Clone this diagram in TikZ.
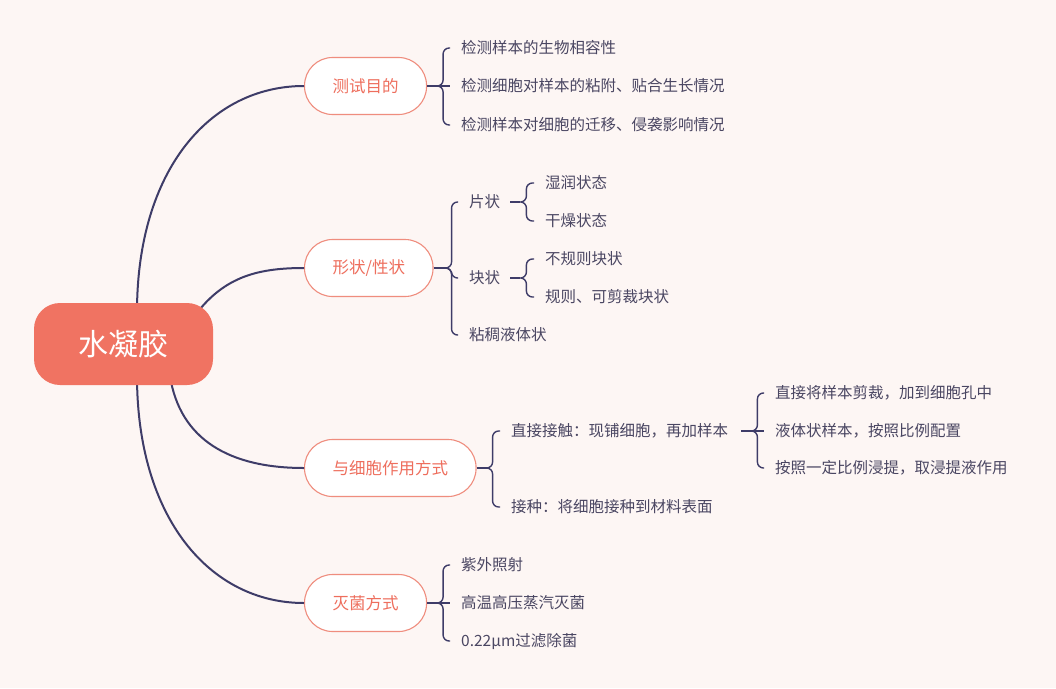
\documentclass[tikz,border=0pt]{standalone}
\usepackage{fontspec}
\setmainfont{Noto Sans CJK SC}
\usetikzlibrary{calc}
\definecolor{bgc}{HTML}{FDF6F4}
\definecolor{rootc}{HTML}{F07362}
\definecolor{bc}{HTML}{EF8D7E}
\definecolor{bt}{HTML}{EE6E5D}
\definecolor{lc}{HTML}{3E3C68}
\definecolor{tc}{HTML}{4A4662}
\begin{document}
\begin{tikzpicture}[x=1pt,y=-1pt,
  mline/.style={draw=lc,line width=2pt},
  bline/.style={draw=lc,line width=1.4pt,rounded corners=6pt},
  leaf/.style={anchor=west,inner sep=0pt,text=tc,font=\fontsize{15.5}{18}\selectfont},
  branch/.style={draw=bc,fill=white,line width=1.1pt,rounded corners=28pt,minimum height=57pt,inner xsep=28pt,text=bt,font=\fontsize{16.5}{20}\selectfont,anchor=west},
  brace/.style={to path={-- ++(6pt,0) |- (\tikztotarget)}}
]
\fill[bgc] (0,0) rectangle (1056,688);
\useasboundingbox (0,0) rectangle (1056,688);

% branch nodes
\node[branch] (A) at (304,86) {测试目的};
\node[branch] (B) at (304,268) {形状/性状};
\node[branch] (C) at (304,468) {与细胞作用方式};
\node[branch] (D) at (304,603) {灭菌方式};

% start coordinates inside the root
\coordinate (rA) at (137,312);
\coordinate (rB) at (193,318);
\coordinate (rC) at (170,376);
\coordinate (rD) at (137,376);

% main connectors
\draw[mline] (rA) .. controls (137,170) and (210,86) .. (A.west);
\draw[mline] (rB) .. controls (222,278) and (255,268) .. (B.west);
\draw[mline] (rC) .. controls (180,440) and (230,468) .. (C.west);
\draw[mline] (rD) .. controls (137,518) and (210,603) .. (D.west);

% root
\node[fill=rootc,rounded corners=26pt,minimum width=179pt,minimum height=82pt,text=white,font=\fontsize{30}{36}\selectfont] (root) at (123.5,344) {水凝胶};

% leaves of A
\node[leaf] (a1) at (461,48) {检测样本的生物相容性};
\node[leaf] (a2) at (461,86) {检测细胞对样本的粘附、贴合生长情况};
\node[leaf] (a3) at (461,125) {检测样本对细胞的迁移、侵袭影响情况};
\draw[bline] (A.east) -- ++(10pt,0) coordinate (jA);
\draw[bline] (jA) to[brace] ([xshift=-11pt]a1.west);
\draw[bline] (jA) -- ([xshift=-11pt]a2.west);
\draw[bline] (jA) to[brace] ([xshift=-11pt]a3.west);

% leaves of B
\node[leaf] (b1) at (469,202) {片状};
\node[leaf] (b2) at (469,278) {块状};
\node[leaf] (b3) at (469,335) {粘稠液体状};
\draw[bline] (B.east) -- ++(12pt,0) coordinate (jB);
\draw[bline] (jB) to[brace] ([xshift=-11pt]b1.west);
\draw[bline] (jB) to[brace] ([xshift=-11pt]b2.west);
\draw[bline] (jB) to[brace] ([xshift=-11pt]b3.west);

\node[leaf] (b11) at (545,183) {湿润状态};
\node[leaf] (b12) at (545,221) {干燥状态};
\draw[bline] ([xshift=10pt]b1.east) -- ++(10pt,0) coordinate (jb1);
\draw[bline] (jb1) to[brace] ([xshift=-11pt]b11.west);
\draw[bline] (jb1) to[brace] ([xshift=-11pt]b12.west);

\node[leaf] (b21) at (545,259) {不规则块状};
\node[leaf] (b22) at (545,297) {规则、可剪裁块状};
\draw[bline] ([xshift=10pt]b2.east) -- ++(10pt,0) coordinate (jb2);
\draw[bline] (jb2) to[brace] ([xshift=-11pt]b21.west);
\draw[bline] (jb2) to[brace] ([xshift=-11pt]b22.west);

% leaves of C
\node[leaf] (c1) at (511,431) {直接接触：现铺细胞，再加样本};
\node[leaf] (c2) at (511,507) {接种：将细胞接种到材料表面};
\draw[bline] (C.east) -- ++(10pt,0) coordinate (jC);
\draw[bline] (jC) to[brace] ([xshift=-11pt]c1.west);
\draw[bline] (jC) to[brace] ([xshift=-11pt]c2.west);

\node[leaf] (c11) at (775,393) {直接将样本剪裁，加到细胞孔中};
\node[leaf] (c12) at (775,431) {液体状样本，按照比例配置};
\node[leaf] (c13) at (775,468) {按照一定比例浸提，取浸提液作用};
\draw[bline] ([xshift=13pt]c1.east) -- ++(10pt,0) coordinate (jc1);
\draw[bline] (jc1) to[brace] ([xshift=-11pt]c11.west);
\draw[bline] (jc1) -- ([xshift=-11pt]c12.west);
\draw[bline] (jc1) to[brace] ([xshift=-11pt]c13.west);

% leaves of D
\node[leaf] (d1) at (461,565) {紫外照射};
\node[leaf] (d2) at (461,603) {高温高压蒸汽灭菌};
\node[leaf] (d3) at (461,641) {0.22μm过滤除菌};
\draw[bline] (D.east) -- ++(10pt,0) coordinate (jD);
\draw[bline] (jD) to[brace] ([xshift=-11pt]d1.west);
\draw[bline] (jD) -- ([xshift=-11pt]d2.west);
\draw[bline] (jD) to[brace] ([xshift=-11pt]d3.west);
\end{tikzpicture}
\end{document}
